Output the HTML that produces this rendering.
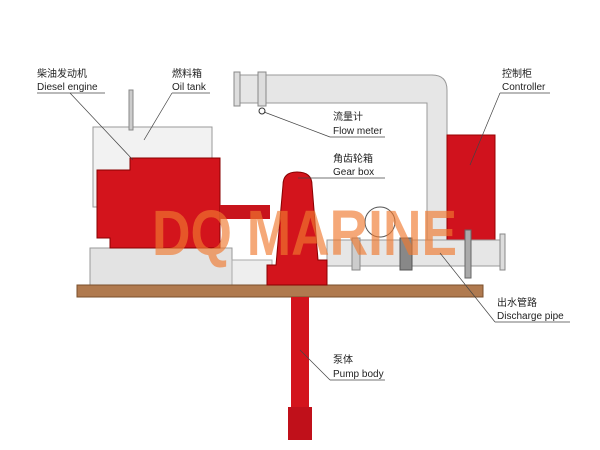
<!DOCTYPE html>
<html><head><meta charset="utf-8"><style>
body{margin:0;background:#fff}
svg{display:block}
text{font-family:"Liberation Sans","Noto Sans CJK SC",sans-serif;font-size:10px;fill:#222}
</style></head><body>
<svg width="600" height="450" viewBox="0 0 600 450">
<rect width="600" height="450" fill="#fff"/>
<path d="M237 75 H432 Q447 75 447 90 V247 H427 V103 H237 Z" fill="#e6e6e6" stroke="#999" stroke-width="1"/>
<rect x="234" y="72" width="6" height="34" fill="#ddd" stroke="#888"/>
<rect x="258" y="72" width="8" height="34" fill="#ddd" stroke="#888"/>
<circle cx="262" cy="111" r="3" fill="none" stroke="#333"/>
<rect x="93" y="127" width="119" height="80" fill="#f2f2f2" stroke="#999"/>
<rect x="129" y="90" width="4" height="40" fill="#ccc" stroke="#888"/>
<rect x="447" y="135" width="48" height="107" fill="#d0121d" stroke="#900"/>
<rect x="90" y="248" width="142" height="37" fill="#e3e3e3" stroke="#999"/>
<rect x="232" y="260" width="40" height="25" fill="#eee" stroke="#aaa"/>
<path d="M97 170 H130 V158 H220 V248 H110 V238 H97 Z" fill="#d3141c" stroke="#8a0000"/>
<rect x="220" y="205" width="50" height="14" fill="#c8141c"/>
<rect x="327" y="240" width="178" height="26" fill="#e6e6e6" stroke="#999"/>
<rect x="352" y="238" width="8" height="32" fill="#ccc" stroke="#888"/>
<rect x="400" y="238" width="12" height="32" fill="#888" stroke="#555"/>
<rect x="465" y="230" width="6" height="48" fill="#aaa" stroke="#666"/>
<rect x="500" y="234" width="5" height="36" fill="#ddd" stroke="#888"/>
<circle cx="380" cy="222" r="15" fill="none" stroke="#555"/>
<rect x="77" y="285" width="406" height="12" fill="#b07a4f" stroke="#7a4f2b"/>
<path d="M283 185 Q283 172 297 172 Q312 172 312 185 L318 260 H327 V285 H267 V265 H276 Z" fill="#d3141c" stroke="#8a0000"/>
<rect x="291" y="297" width="18" height="110" fill="#d3141c"/>
<rect x="288" y="407" width="24" height="33" fill="#c0101a"/>
<text x="152" y="255" textLength="305" lengthAdjust="spacingAndGlyphs" style="font-size:64px;font-weight:bold;fill:#f07a30;fill-opacity:0.65">DQ MARINE</text>
<g stroke="#444" stroke-width="0.7" fill="none">
<line x1="37" y1="93" x2="105" y2="93"/><line x1="70" y1="93" x2="133" y2="160"/>
<line x1="172" y1="93" x2="210" y2="93"/><line x1="172" y1="93" x2="144" y2="140"/>
<line x1="330" y1="137" x2="385" y2="137"/><line x1="330" y1="137" x2="264" y2="112"/>
<line x1="330" y1="178" x2="385" y2="178"/><line x1="330" y1="178" x2="298" y2="178"/>
<line x1="500" y1="93" x2="550" y2="93"/><line x1="500" y1="93" x2="470" y2="165"/>
<line x1="495" y1="322" x2="570" y2="322"/><line x1="495" y1="322" x2="440" y2="253"/>
<line x1="330" y1="380" x2="385" y2="380"/><line x1="330" y1="380" x2="300" y2="350"/>
</g>
<text x="37" y="77">柴油发动机</text><text x="37" y="90">Diesel engine</text>
<text x="172" y="77">燃料箱</text><text x="172" y="90">Oil tank</text>
<text x="333" y="120">流量计</text><text x="333" y="134">Flow meter</text>
<text x="333" y="162">角齿轮箱</text><text x="333" y="175">Gear box</text>
<text x="502" y="77">控制柜</text><text x="502" y="90">Controller</text>
<text x="497" y="306">出水管路</text><text x="497" y="319">Discharge pipe</text>
<text x="333" y="363">泵体</text><text x="333" y="377">Pump body</text>
</svg>
</body></html>
